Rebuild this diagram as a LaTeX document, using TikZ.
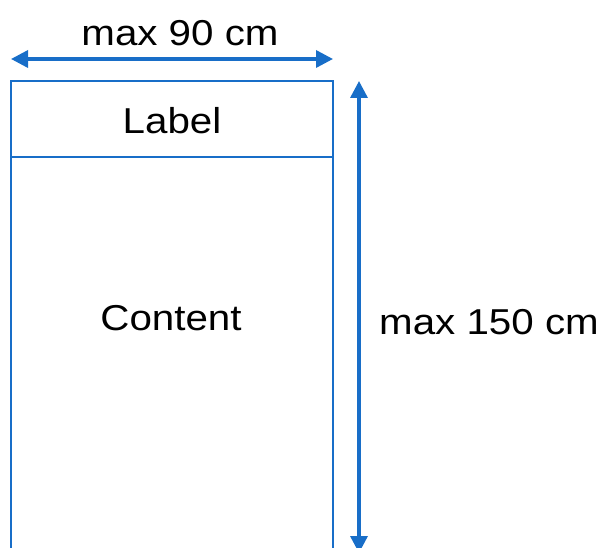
\documentclass[tikz,border=0pt]{standalone}
\usepackage{fontspec}
\setmainfont{Liberation Sans}
\usetikzlibrary{arrows.meta}
\definecolor{lineblue}{RGB}{24,110,200}
\tikzset{
  txt/.style={font=\fontsize{36}{42}\selectfont, xscale=1.12, inner sep=0pt, anchor=center},
  box/.style={draw=lineblue, line width=2pt},
  dim/.style={draw=lineblue, line width=3.4pt, {Triangle[length=17pt,width=17pt]}-{Triangle[length=17pt,width=17pt]}}
}
\begin{document}
\begin{tikzpicture}[x=1pt,y=-1pt]
\useasboundingbox (0,0) rectangle (603,548);
\coordinate (hl) at (11,59);
\coordinate (hr) at (333,59);
\coordinate (vt) at (359,81);
\coordinate (vb) at (359,553);
\coordinate (bl) at (11,560);
\coordinate (tl) at (11,81);
\coordinate (tr) at (333,81);
\coordinate (br) at (333,560);
\coordinate (dl) at (11,157);
\coordinate (dr) at (333,157);
\draw[box] (bl) -- (tl) -- (tr) -- (br);
\draw[box] (dl) -- (dr);
\draw[dim] (hl) -- (hr);
\draw[dim] (vt) -- (vb);
\node[txt] (w) at (180,33) {max 90 cm};
\node[txt] (lab) at (172,121) {Label};
\node[txt] (con) at (171,318) {Content};
\node[txt] (h) at (489,322) {max 150 cm};
\end{tikzpicture}
\end{document}
